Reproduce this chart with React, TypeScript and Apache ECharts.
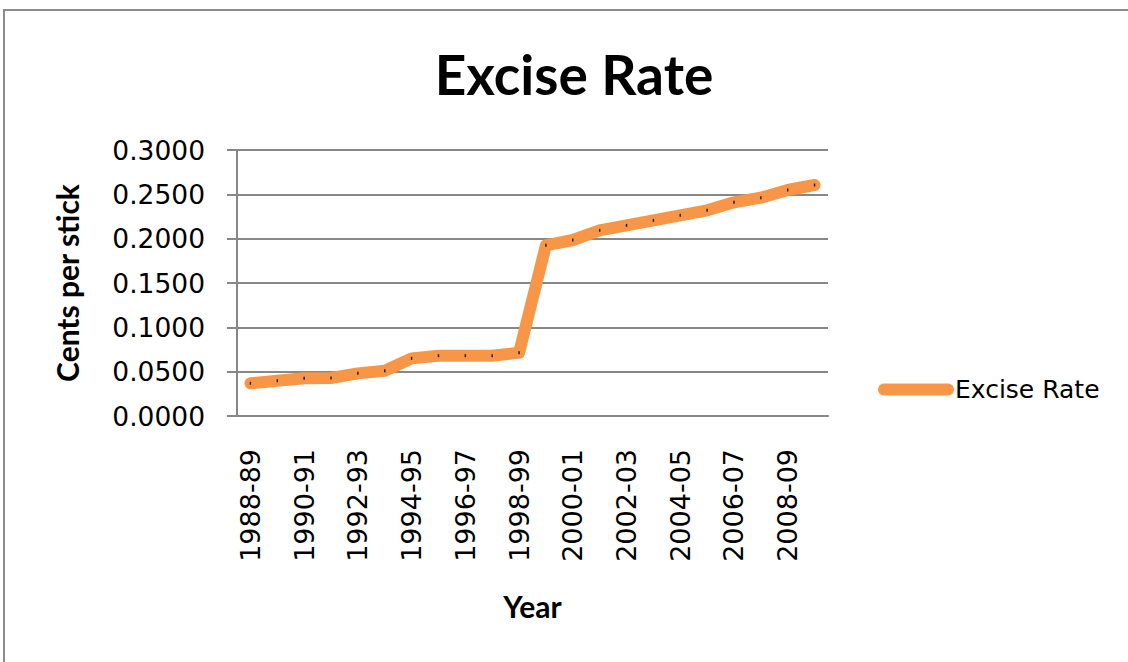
import React, { useEffect, useRef } from "react";
import * as echarts from "echarts";

// Financial years on the category axis
const years: string[] = [
  "1988-89", "1989-90", "1990-91", "1991-92", "1992-93", "1993-94",
  "1994-95", "1995-96", "1996-97", "1997-98", "1998-99", "1999-00",
  "2000-01", "2001-02", "2002-03", "2003-04", "2004-05", "2005-06",
  "2006-07", "2007-08", "2008-09", "2009-10",
];

// Excise rate, cents per stick
const exciseRate: number[] = [
  0.0369, 0.0398, 0.0425, 0.0429, 0.0481, 0.0511,
  0.065, 0.068, 0.068, 0.068, 0.0714, 0.1925,
  0.1985, 0.2094, 0.215, 0.2207, 0.2263, 0.232,
  0.241, 0.2462, 0.2549, 0.2605,
];

const yTicks = { min: 0, max: 0.3, interval: 0.05 };

const ORANGE = "#F79646";
const GRID_GREY = "#878787";

export default function App() {
  const ref = useRef<HTMLDivElement>(null);

  useEffect(() => {
    if (!ref.current) return;
    const chart = echarts.init(ref.current, undefined, { renderer: "svg" });
    chart.setOption({
      animation: false,
      backgroundColor: "#ffffff",
      title: {
        text: "Excise Rate",
        left: 569,
        top: 41,
        textAlign: "center",
        textStyle: {
          fontFamily: "Lato",
          fontWeight: "bold",
          fontSize: 55,
          color: "#000",
        },
      },
      graphic: [
        {
          type: "rect",
          shape: { x: 4, y: 10, width: 1300, height: 800 },
          style: { fill: "none", stroke: "#8c8c8c", lineWidth: 2 },
          silent: true,
        },
      ],
      legend: {
        orient: "vertical",
        left: 873,
        top: 372,
        itemWidth: 76,
        itemHeight: 12,
        itemGap: 10,
        data: [
          {
            name: "Excise Rate",
            icon: "path://M6,0 H70 A6,6 0 0 1 70,12 H6 A6,6 0 0 1 6,0 Z",
            itemStyle: { color: ORANGE },
          },
        ],
        textStyle: {
          fontFamily: "DejaVu Sans",
          fontSize: 25,
          color: "#000",
          padding: [0, 0, 0, -4],
        },
      },
      grid: {
        left: 237,
        top: 150,
        width: 591,
        height: 266,
        containLabel: false,
      },
      xAxis: {
        type: "category",
        data: years,
        boundaryGap: true,
        name: "Year",
        nameLocation: "middle",
        nameGap: 175,
        nameTextStyle: {
          fontFamily: "Lato",
          fontWeight: "bold",
          fontSize: 30,
          color: "#000",
        },
        axisLine: { show: true, lineStyle: { color: GRID_GREY, width: 2 } },
        axisTick: { show: false },
        axisLabel: {
          interval: 1,
          rotate: 90,
          margin: 33,
          fontFamily: "DejaVu Sans",
          fontSize: 27,
          color: "#000",
        },
      },
      yAxis: {
        type: "value",
        min: yTicks.min,
        max: yTicks.max,
        interval: yTicks.interval,
        name: "Cents per stick",
        nameLocation: "middle",
        nameRotate: 90,
        nameGap: 155,
        nameTextStyle: {
          fontFamily: "Lato",
          fontWeight: "bold",
          fontSize: 30,
          color: "#000",
        },
        axisLine: { show: true, lineStyle: { color: GRID_GREY, width: 2 } },
        axisTick: {
          show: true,
          inside: false,
          length: 10,
          lineStyle: { color: GRID_GREY, width: 2 },
        },
        splitLine: { show: true, lineStyle: { color: GRID_GREY, width: 2 } },
        axisLabel: {
          margin: 32,
          formatter: (v: number) => v.toFixed(4),
          fontFamily: "DejaVu Sans",
          fontSize: 26.5,
          color: "#000",
        },
      },
      series: [
        {
          name: "Excise Rate",
          type: "line",
          data: exciseRate,
          symbol: "rect",
          symbolSize: [1.5, 3],
          showSymbol: true,
          itemStyle: { color: "#222" },
          lineStyle: {
            color: ORANGE,
            width: 12,
            cap: "round",
            join: "round",
          },
          emphasis: { disabled: true },
        },
      ],
    });
    return () => chart.dispose();
  }, []);

  return (
    <div
      ref={ref}
      style={{ position: "fixed", left: 0, top: 0, width: 1128, height: 662 }}
    />
  );
}
